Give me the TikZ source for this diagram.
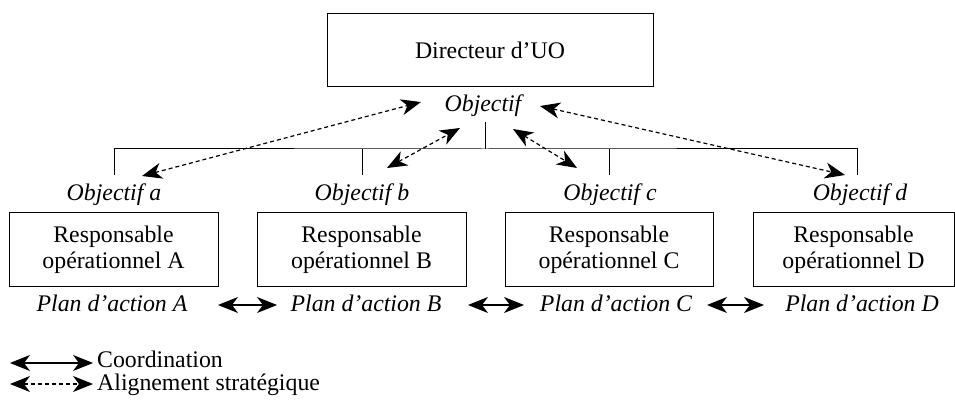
\documentclass[tikz,border=0pt]{standalone}
\usepackage{fontspec}
\setmainfont{Liberation Serif}
\usetikzlibrary{arrows.meta}
\begin{document}
\begin{tikzpicture}[x=1pt,y=-1pt,
  every node/.style={font=\fontsize{23.8}{26}\selectfont, inner sep=0pt},
  box/.style={draw, line width=1pt, minimum height=73pt, align=center},
  lbl/.style={font=\fontsize{23.8}{26}\selectfont\itshape, anchor=base},
  leg/.style={anchor=base west},
  tree/.style={line width=1pt},
  coordarrow/.style={line width=1.2pt, {Stealth[length=20pt,width=16pt,inset=6pt]}-{Stealth[length=20pt,width=16pt,inset=6pt]}},
  stratarrow/.style={coordarrow, dash pattern=on 4pt off 3pt}]
\useasboundingbox (0,0) rectangle (955,403);

% top
\node[box, minimum width=326pt] (dir) at (490,50) {Directeur d'UO};
\node[lbl] (obj) at (483,112) {Objectif};

% boxes
\node[box, minimum width=209pt] (ra) at (113.5,249.5) {Responsable\\opérationnel A};
\node[box, minimum width=209pt] (rb) at (361.5,249.5) {Responsable\\opérationnel B};
\node[box, minimum width=208pt] (rc) at (609,249.5) {Responsable\\opérationnel C};
\node[box, minimum width=201pt] (rd) at (853.5,249.5) {Responsable\\opérationnel D};

% objectives
\node[lbl] (oa) at (114,201) {Objectif a};
\node[lbl] (ob) at (362,201) {Objectif b};
\node[lbl] (oc) at (610,201) {Objectif c};
\node[lbl] (od) at (860,201) {Objectif d};

% plans
\node[lbl] (pa) at (112,311) {Plan d'action A};
\node[lbl] (pb) at (366,311) {Plan d'action B};
\node[lbl] (pc) at (616,311) {Plan d'action C};
\node[lbl] (pd) at (862,311) {Plan d'action D};

% tree
\coordinate (stub) at (485,122);
\coordinate (hub) at (485,149);
\coordinate (da) at (114,175);
\coordinate (db) at (362,175);
\coordinate (dc) at (609,175);
\coordinate (dd) at (857,175);
\draw[tree] (stub) -- (hub);
\draw[tree] (da) |- (hub) -| (dd);
\draw[tree] (db) -- (db |- hub);
\draw[tree] (dc) -- (dc |- hub);

% strategic alignment arrows
\coordinate (s1a) at (142,176); \coordinate (s1b) at (421,102);
\coordinate (s2a) at (387,168); \coordinate (s2b) at (460,128);
\coordinate (s3a) at (513,129); \coordinate (s3b) at (577,168);
\coordinate (s4a) at (540,106); \coordinate (s4b) at (845,175);
\draw[stratarrow] (s1a) -- (s1b);
\draw[stratarrow] (s2a) -- (s2b);
\draw[stratarrow] (s3a) -- (s3b);
\draw[stratarrow] (s4a) -- (s4b);

% coordination arrows
\coordinate (c1a) at (218,305); \coordinate (c1b) at (277,305);
\coordinate (c2a) at (468,305); \coordinate (c2b) at (524,305);
\coordinate (c3a) at (707,305); \coordinate (c3b) at (764,305);
\draw[coordarrow] (c1a) -- (c1b);
\draw[coordarrow] (c2a) -- (c2b);
\draw[coordarrow] (c3a) -- (c3b);

% legend
\coordinate (l1a) at (10,363); \coordinate (l1b) at (93,363);
\coordinate (l2a) at (10,384); \coordinate (l2b) at (93,384);
\draw[coordarrow] (l1a) -- (l1b);
\draw[stratarrow] (l2a) -- (l2b);
\node[leg] (t1) at (97,367) {Coordination};
\node[leg] (t2) at (97,390) {Alignement stratégique};
\end{tikzpicture}
\end{document}
